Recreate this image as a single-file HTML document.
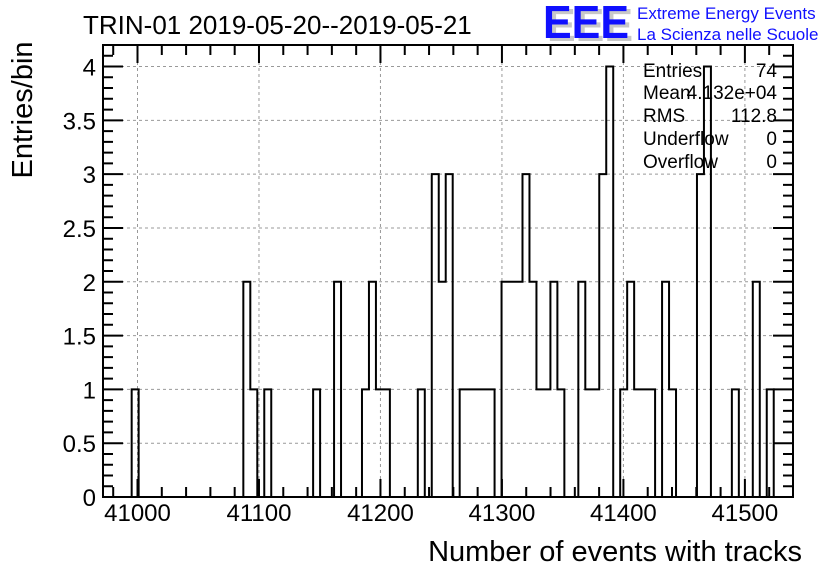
<!DOCTYPE html>
<html><head><meta charset="utf-8"><style>
body{margin:0;background:#fff}
svg{display:block;font-family:"Liberation Sans",sans-serif}
</style></head><body>
<svg id="c" width="836" height="572" viewBox="0 0 836 572">
<text x="83" y="34" font-size="26">TRIN-01 2019-05-20--2019-05-21</text>
<g>
<text x="547" y="41" font-size="46" font-weight="bold" fill="#c8c8c8" textLength="86" lengthAdjust="spacingAndGlyphs">EEE</text>
<text x="543" y="38" font-size="46" font-weight="bold" fill="#1010ff" textLength="86" lengthAdjust="spacingAndGlyphs">EEE</text>
<text x="637" y="19" font-size="17" fill="#1010ff">Extreme Energy Events</text>
<text x="637" y="40" font-size="17" fill="#1010ff">La Scienza nelle Scuole</text>
</g>
<g id="grid"></g>
<g id="axes"></g>
<path id="hist" fill="none" stroke="#000" stroke-width="2"/>
<rect x="103" y="45" width="690" height="452" fill="none" stroke="#000" stroke-width="2"/>
<g font-size="19">
<text x="643" y="77">Entries</text><text x="777" y="77" text-anchor="end">74</text>
<text x="643" y="99">Mean</text><text x="777" y="99" text-anchor="end">4.132e+04</text>
<text x="643" y="122">RMS</text><text x="777" y="122" text-anchor="end">112.8</text>
<text x="643" y="145">Underflow</text><text x="777" y="145" text-anchor="end">0</text>
<text x="643" y="168">Overflow</text><text x="777" y="168" text-anchor="end">0</text>
</g>
<text transform="translate(32,110) rotate(-90)" text-anchor="middle" font-size="29">Entries/bin</text>
<text x="802" y="561" text-anchor="end" font-size="29">Number of events with tracks</text>
</svg>
<script>
const binStart = 40995.2;
const binWidth = 5.745;
const binIndex = [0,16,17,19,26,29,33,34,35,36,41,43,44,45,47,48,49,50,51,53,54,55,56,57,58,59,60,61,64,65,66,67,68,70,71,72,73,74,76,77,81,82,86,89,91];
const binCount = [1,2,1,1,1,2,1,2,1,1,1,3,2,3,1,1,1,1,1,2,2,2,3,2,1,1,2,1,2,1,1,3,4,1,2,1,1,1,2,1,3,4,1,2,1];
const xTicks = [41000,41100,41200,41300,41400,41500];
const xTickLabels = ["41000","41100","41200","41300","41400","41500"];
const yTicks = [0,0.5,1,1.5,2,2.5,3,3.5,4];
const yTickLabels = ["0","0.5","1","1.5","2","2.5","3","3.5","4"];
const X0=103,X1=793,Y0=497,Y1=45,xmin=40971.6,xmax=41539.6,ymax=4.2;
const sx=v=>X0+(v-xmin)/(xmax-xmin)*(X1-X0);
const sy=v=>Y0-v/ymax*(Y0-Y1);
const NS="http://www.w3.org/2000/svg";
function mk(tag,attrs,parent){const e=document.createElementNS(NS,tag);for(const k in attrs)e.setAttribute(k,attrs[k]);parent.appendChild(e);return e;}
const grid=document.getElementById('grid'),axes=document.getElementById('axes');
xTicks.forEach((t,i)=>{
  const g=mk('line',{x1:sx(t),x2:sx(t),y1:Y0,y2:Y1,stroke:'#999','stroke-dasharray':'3,3','stroke-width':1},grid);
  
  
  const l=mk('text',{x:sx(t),y:521,'text-anchor':'middle','font-size':24},axes);
  l.textContent=xTickLabels[i];
  
  
});
yTicks.forEach((t,i)=>{
  if(t>0){const g=mk('line',{x1:X0,x2:X1,y1:sy(t),y2:sy(t),stroke:'#999','stroke-dasharray':'3,3','stroke-width':1},grid);
  
  }
  const l=mk('text',{x:96,y:sy(t)+9,'text-anchor':'end','font-size':24},axes);
  l.textContent=yTickLabels[i];
  
  
});
let d='';
for(let v=40980;v<=xmax;v+=20){const x=sx(v);if(x<X0)continue;const L=(Math.round(v)%100===0)?18:10;
  d+=`M${x},${Y0}V${Y0-L}M${x},${Y1}V${Y1+L}`;}
for(let v=0.1;v<=ymax+1e-9;v+=0.1){const y=sy(v);const L=(Math.round(v*10)%5===0)?20:10;
  d+=`M${X0},${y}H${X0+L}M${X1},${y}H${X1-L}`;}
const tk=mk('path',{d:d,stroke:'#000','stroke-width':2,fill:'none'},axes);


const counts=new Array(100).fill(0);
binIndex.forEach((b,i)=>counts[b]=binCount[i]);
let p=`M${X0},${Y0}`;
let prev=0;
for(let k=0;k<100;k++){const lo=binStart+k*binWidth,hi=lo+binWidth;if(sx(lo)>X1)break;
  const c=counts[k];
  if(c!==prev){p+=`L${sx(lo)},${sy(prev)}L${sx(lo)},${sy(c)}`;prev=c;}
}
p+=`L${X1},${sy(prev)}`;
document.getElementById('hist').setAttribute('d',p);
</script>
</body></html>
